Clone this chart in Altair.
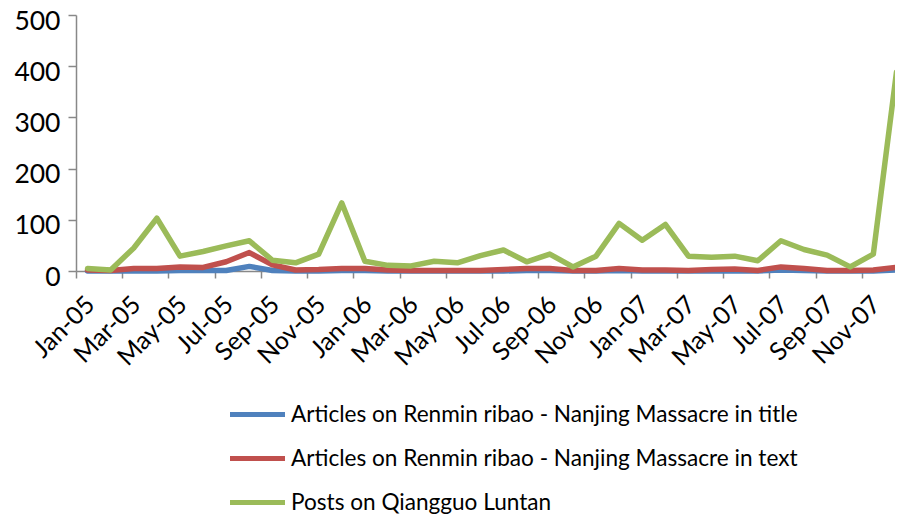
import altair as alt
import pandas as pd

months = ["Jan-05","Feb-05","Mar-05","Apr-05","May-05","Jun-05","Jul-05","Aug-05","Sep-05","Oct-05","Nov-05","Dec-05",
          "Jan-06","Feb-06","Mar-06","Apr-06","May-06","Jun-06","Jul-06","Aug-06","Sep-06","Oct-06","Nov-06","Dec-06",
          "Jan-07","Feb-07","Mar-07","Apr-07","May-07","Jun-07","Jul-07","Aug-07","Sep-07","Oct-07","Nov-07","Dec-07"]

series_names = ["Articles on Renmin ribao - Nanjing Massacre in title",
                "Articles on Renmin ribao - Nanjing Massacre in text",
                "Posts on Qiangguo Luntan"]
series_colors = ["#4F81BD", "#C0504D", "#9BBB59"]

title_vals = [0, 0, 0, 0, 1, 1, 1, 9, 1, 0, 0, 1, 1, 0, 0, 0, 0, 0, 0, 1, 1, 0, 0, 1,
              0, 0, 0, 0, 0, 0, 2, 1, 0, 0, 0, 2]
text_vals = [2, 1, 5, 5, 8, 7, 18, 36, 12, 2, 3, 5, 5, 2, 1, 1, 1, 1, 3, 5, 5, 1, 1, 5,
             2, 2, 1, 3, 4, 1, 8, 5, 1, 1, 2, 7]
posts_vals = [5, 2, 45, 103, 29, 38, 49, 59, 21, 16, 33, 133, 19, 11, 10, 19, 16, 30, 41, 18, 33, 8, 29, 93,
              60, 91, 29, 27, 29, 20, 59, 42, 31, 8, 33, 388]

rows = []
for name, vals in zip(series_names, [title_vals, text_vals, posts_vals]):
    for i, (m, v) in enumerate(zip(months, vals)):
        rows.append({"idx": i, "month": m, "series": name, "value": v})
df = pd.DataFrame(rows)

label_list = months[::2]
label_expr = "[" + ",".join("'" + s + "'" for s in label_list) + "][round((datum.value + 0.5) / 2)] || ''"
tick_values = [i - 0.5 for i in range(0, 37, 2)]

FONT = "Lato"

chart = alt.Chart(df).mark_line(strokeWidth=5.5, strokeJoin="round", strokeCap="round").encode(
    x=alt.X("idx:Q",
            scale=alt.Scale(domain=[-0.5, 35.5], nice=False, zero=False),
            axis=alt.Axis(values=tick_values, labelExpr=label_expr, title=None, grid=False,
                          labelAngle=-45, labelAlign="right", labelBaseline="middle",
                          labelOffset=14, labelPadding=22, tickSize=7, tickColor="#888888",
                          domainColor="#888888", domainWidth=1.5, tickWidth=1.5,
                          labelFont=FONT, labelFontSize=25, labelColor="#000000",
                          labelOverlap=False, labelBound=False)),
    y=alt.Y("value:Q",
            scale=alt.Scale(domain=[0, 500], nice=False),
            axis=alt.Axis(values=[0, 100, 200, 300, 400, 500], title=None, grid=False,
                          tickSize=8, tickColor="#888888", domainColor="#888888",
                          domainWidth=1.5, tickWidth=1.5, labelPadding=8, labelOffset=6,
                          labelFont=FONT, labelFontSize=26.5, labelColor="#000000")),
    color=alt.Color("series:N",
                    scale=alt.Scale(domain=series_names, range=series_colors),
                    sort=series_names,
                    legend=alt.Legend(title=None, orient="none", legendX=168, legendY=386,
                                      direction="vertical", symbolType="M-2.5,0H2.5",
                                      symbolSize=484, symbolStrokeWidth=5,
                                      labelFont=FONT, labelFontSize=22.6, labelColor="#000000",
                                      labelLimit=1000, labelOffset=20, rowPadding=18,
                                      padding=0)),
    order=alt.Order("idx:Q"),
).properties(
    width=832, height=256,
    padding={"left": 68, "top": 7, "right": -13, "bottom": 245},
    autosize=alt.AutoSizeParams(type="none"),
).configure_view(stroke=None)

chart.save("out.html", embed_options={"renderer": "svg", "actions": False})
